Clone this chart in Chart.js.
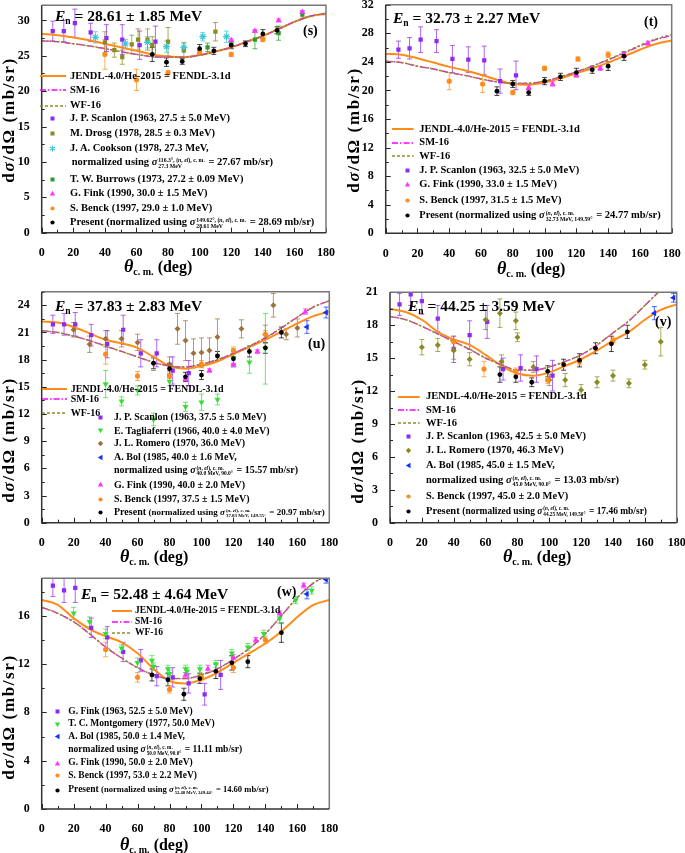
<!DOCTYPE html>
<html>
<head>
<meta charset="utf-8">
<script src="https://cdn.jsdelivr.net/npm/chart.js@4.4.1/dist/chart.umd.min.js"></script>
<style>
  body { margin: 0; width: 685px; height: 853px; position: relative; overflow: hidden; background: #fff;
         font-family: "Liberation Serif", "Times New Roman", serif; font-weight: bold; color: #000; }
  canvas { position: absolute; }
  .tx { position: absolute; white-space: nowrap; line-height: 1; }
  .ss { display: inline-flex; flex-direction: column; vertical-align: 0.6em; font-size: 0.55em; line-height: 1.05; margin: 0 1px; }
  .sm { font-size: 0.9em; }
  .sym { position: absolute; overflow: visible; }
  .ytl { position: absolute; white-space: nowrap; line-height: 1; font-size: 17px; letter-spacing: 1.6px;
         transform: translate(-50%, -50%) rotate(-90deg); }
  sub { font-size: 0.62em; vertical-align: -0.3em; line-height: 0; }
</style>
</head>
<body>
<canvas id="cs"></canvas>
<canvas id="ct"></canvas>
<canvas id="cu"></canvas>
<canvas id="cv"></canvas>
<canvas id="cw"></canvas>
<script>
// theory curves, every 10 deg
const angles = [0, 10, 20, 30, 40, 50, 60, 70, 80, 90, 100, 110, 120, 130, 140, 150, 160, 170, 180];

const sJendl = [28.1, 27.9, 27.6, 27.2, 26.7, 26.2, 25.7, 25.2, 24.9, 24.8, 25.1, 25.6, 26.2, 27.0, 27.8, 28.8, 29.8, 30.6, 30.9];
const sSm    = [27.1, 27.0, 26.7, 26.4, 26.0, 25.6, 25.2, 24.9, 24.8, 24.8, 25.1, 25.6, 26.2, 27.0, 27.8, 28.8, 29.8, 30.6, 31.0];
const sWf    = [27.1, 27.0, 26.7, 26.4, 26.0, 25.6, 25.2, 24.9, 24.8, 24.8, 25.1, 25.6, 26.2, 27.0, 27.8, 28.8, 29.8, 30.6, 31.0];

const tJendl = [25.1, 25.0, 24.5, 23.9, 23.3, 22.8, 22.2, 21.5, 20.9, 20.8, 21.1, 21.7, 22.4, 23.1, 23.9, 24.8, 25.7, 26.5, 27.0];
const tSm    = [24.1, 23.9, 23.4, 23.0, 22.5, 22.1, 21.6, 21.2, 21.0, 21.0, 21.3, 21.9, 22.6, 23.4, 24.3, 25.2, 26.2, 27.1, 27.7];
const tWf    = [24.1, 23.9, 23.4, 23.0, 22.5, 22.1, 21.6, 21.2, 21.0, 21.0, 21.3, 21.9, 22.6, 23.4, 24.3, 25.3, 26.3, 27.2, 27.8];

const uJendl = [22.2, 22.1, 21.6, 20.9, 20.2, 19.8, 19.3, 18.3, 17.3, 17.0, 17.3, 17.8, 18.6, 19.4, 20.2, 21.1, 22.0, 22.8, 23.3];
const uSm    = [21.2, 21.0, 20.6, 20.1, 19.5, 18.9, 18.3, 17.7, 17.3, 17.2, 17.5, 18.0, 18.7, 19.5, 20.4, 21.5, 22.7, 23.8, 24.5];
const uWf    = [21.2, 21.0, 20.6, 20.1, 19.5, 18.9, 18.3, 17.7, 17.3, 17.2, 17.5, 18.0, 18.7, 19.5, 20.4, 21.5, 22.7, 23.8, 24.5];

const vJendl = [19.5, 19.2, 18.5, 17.4, 16.7, 16.2, 15.3, 14.3, 13.6, 13.4, 13.7, 14.3, 14.9, 15.7, 16.6, 17.4, 18.5, 19.4, 19.9];
const vSm    = [18.8, 18.5, 17.9, 17.2, 16.5, 15.8, 15.0, 14.4, 13.9, 13.9, 14.2, 14.7, 15.3, 16.2, 17.3, 18.4, 19.8, 21.2, 22.4];
const vWf    = [18.8, 18.5, 17.9, 17.2, 16.5, 15.8, 15.0, 14.4, 13.9, 13.9, 14.2, 14.7, 15.3, 16.2, 17.3, 18.4, 19.8, 21.2, 22.4];

const wJendl = [17.3, 16.9, 15.8, 14.9, 14.3, 13.8, 12.9, 11.6, 10.6, 10.4, 10.7, 11.3, 12.1, 12.9, 13.7, 14.7, 15.9, 16.9, 17.3];
const wSm    = [16.7, 16.2, 15.5, 14.5, 13.4, 12.5, 11.7, 11.1, 10.8, 10.8, 11.1, 11.6, 12.4, 13.3, 14.5, 16.0, 17.5, 18.7, 19.4];
const wWf    = [16.7, 16.2, 15.5, 14.5, 13.4, 12.5, 11.7, 11.1, 10.8, 10.8, 11.1, 11.6, 12.4, 13.3, 14.5, 16.0, 17.5, 18.7, 19.4];

// measurements: [angle, dsigma/dOmega, error]
const sScanlon = [[7, 28.5, 1.4], [14, 28.5, 1.5], [21, 29.6, 2.0], [31, 28.3, 1.3], [41, 27.5, 1.9], [51, 27.3, 2.1], [62, 26.5, 2.0], [72, 27.0, 2.2]];
const sDrosg = [[40, 26.9, 1.5], [46, 25.8, 1.0], [51, 24.8, 1.0], [57, 26.6, 1.3], [61, 27.3, 1.5], [67, 27.3, 1.5], [70, 26.5, 1.2], [80, 27.0, 2.0], [90, 25.8, 1.0], [110, 28.4, 1.3]];
const sCookson = [[34, 27.6, 0.8], [53, 26.7, 0.6], [67, 26.9, 0.8], [79, 26.3, 0.8], [90, 26.2, 0.7], [102, 27.7, 0.6], [117, 27.7, 0.8]];
const sBurrows = [[105, 26.2, 0.6], [120, 26.6, 0.5], [135, 27.3, 1.3], [150, 28.2, 1.0], [165, 30.8, 0.5]];
const sFink = [[120, 27.2, 0.2], [135, 28.5, 0.2], [150, 30.0, 0.2], [165, 31.2, 0.2]];
const sBenck = [[40, 25.2, 2.1], [60, 21.6, 1.5], [80, 22.6, 0.3], [100, 25.6, 0.3], [120, 25.2, 0.3], [140, 27.3, 0.3]];
const sPresent = [[70, 25.2, 1.0], [79, 24.1, 0.6], [89, 24.2, 0.4], [100, 26.0, 0.6], [109, 25.7, 0.5], [120, 26.5, 0.5], [129, 26.7, 0.4], [140, 28.1, 0.6], [149, 28.6, 0.5]];

const tScanlon = [[8, 25.7, 1.2], [15, 25.9, 1.5], [22, 27.1, 1.8], [32, 26.9, 1.6], [42, 24.4, 1.9], [52, 24.3, 1.8], [62, 24.2, 2.0], [72, 21.3, 1.7], [82, 22.1, 2.0]];
const tFink = [[90, 20.4, 0.3], [105, 20.9, 0.3], [120, 22.2, 0.3], [135, 23.1, 0.3], [150, 25.0, 0.3], [165, 26.6, 0.3]];
const tBenck = [[40, 21.3, 1.2], [61, 20.9, 1.2], [80, 19.7, 0.3], [100, 23.1, 0.3], [121, 24.4, 0.3], [140, 25.0, 0.4]];
const tPresent = [[70, 19.9, 0.6], [80, 20.9, 0.5], [90, 19.7, 0.4], [100, 21.3, 0.5], [110, 21.9, 0.5], [120, 22.5, 0.6], [130, 22.9, 0.5], [140, 23.4, 0.6], [150, 24.8, 0.6]];

const uScanlon = [[7, 21.9, 1.0], [14, 21.9, 1.2], [21, 21.9, 1.3], [31, 20.7, 1.2], [41, 19.7, 1.5], [51, 21.3, 1.6], [62, 18.7, 1.5], [72, 18.7, 1.5], [82, 16.8, 1.5], [92, 16.5, 1.4]];
const uTagliaferri = [[40, 15.3, 1.5], [50, 13.4, 0.5], [60, 14.6, 0.5], [70, 11.4, 0.7], [80, 15.6, 0.5], [90, 12.8, 0.5], [100, 13.3, 0.9], [110, 13.6, 0.6], [120, 18.2, 1.0], [130, 17.7, 1.2], [140, 19.2, 3.9]];
const uRomero = [[20, 21.3, 0.8], [30, 19.7, 0.9], [40, 20.3, 0.9], [50, 20.3, 0.9], [60, 19.9, 0.9], [70, 17.6, 0.8], [80, 17.5, 0.8], [85, 21.4, 1.7], [90, 20.1, 2.2], [95, 18.7, 1.6], [100, 18.8, 1.6], [105, 19.0, 1.4], [110, 20.5, 2.0], [125, 21.4, 1.0], [140, 20.8, 1.0], [145, 24.0, 1.3], [153, 20.8, 0.6], [160, 21.5, 1.0]];
const uBol = [[166, 21.6, 0.7], [178, 23.2, 0.6]];
const uFink = [[90, 15.9, 0.2], [105, 16.8, 0.2], [120, 17.4, 0.2], [135, 18.9, 0.2], [165, 23.3, 0.3]];
const uBenck = [[40, 18.6, 1.1], [60, 16.2, 0.5], [80, 16.2, 0.3], [100, 17.5, 0.4], [120, 19.0, 0.4], [140, 20.8, 0.4]];
const uPresent = [[70, 17.6, 0.6], [80, 17.0, 0.6], [90, 16.1, 0.5], [100, 16.3, 0.5], [110, 18.4, 0.5], [120, 18.1, 0.6], [130, 18.9, 0.6], [140, 19.3, 0.6], [150, 21.0, 0.6]];

const vScanlon = [[6, 19.9, 1.0], [13, 20.8, 1.0], [20, 20.2, 1.2], [30, 18.6, 1.2], [40, 15.8, 1.2], [50, 17.1, 1.3], [61, 18.3, 1.5], [71, 14.0, 1.0], [82, 14.1, 1.2], [92, 14.0, 1.2], [102, 13.4, 1.4]];
const vRomero = [[20, 16.0, 0.7], [30, 16.2, 0.6], [40, 15.7, 0.8], [50, 14.9, 0.6], [60, 18.5, 0.9], [69, 19.1, 1.3], [70, 14.7, 0.6], [79, 18.4, 0.8], [80, 16.9, 0.4], [90, 14.2, 0.5], [100, 13.0, 0.5], [110, 13.0, 0.6], [120, 12.1, 0.5], [130, 12.8, 0.5], [140, 13.4, 0.5], [150, 12.7, 0.4], [160, 14.4, 0.4], [170, 16.5, 1.3]];
const vBol = [[166, 19.1, 0.6], [178, 20.5, 0.4]];
const vBenck = [[40, 16.5, 0.5], [59, 14.0, 0.7], [79, 13.8, 0.3], [99, 13.0, 0.3], [119, 14.7, 0.3], [140, 16.6, 0.3]];
const vPresent = [[69, 13.5, 0.7], [79, 13.3, 0.5], [89, 12.8, 0.4], [99, 13.8, 0.5], [109, 14.4, 0.5], [119, 14.8, 0.6], [129, 15.9, 0.5], [139, 16.3, 0.7], [149, 17.4, 0.6]];

const wFink63 = [[7, 18.5, 0.9], [14, 18.1, 1.0], [21, 18.3, 1.2], [31, 15.0, 0.8], [41, 14.2, 0.9], [51, 13.0, 0.8], [62, 12.3, 0.9], [72, 11.0, 0.8], [82, 10.9, 0.8], [92, 10.4, 0.8], [102, 9.5, 0.9], [112, 11.1, 1.2]];
const wMontgomery = [[20, 16.2, 0.5], [30, 15.5, 0.4], [40, 14.5, 0.4], [50, 13.3, 0.3], [60, 12.1, 0.4], [69, 12.3, 0.4], [70, 11.8, 0.3], [79, 11.6, 0.3], [80, 11.2, 0.3], [90, 11.6, 0.3], [91, 11.4, 0.3], [99, 11.6, 0.3], [109, 12.0, 0.3], [119, 12.9, 0.3], [129, 13.4, 0.3], [139, 14.5, 0.3], [149, 15.8, 0.4], [159, 17.3, 0.3], [169, 18.1, 0.3]];
const wBol = [[166, 17.8, 0.4], [178, 19.0, 0.3]];
const wFink90 = [[90, 11.1, 0.2], [104, 11.6, 0.3], [120, 12.5, 0.3], [134, 14.0, 0.2], [149, 16.2, 0.2], [164, 18.5, 0.2]];
const wBenck = [[40, 13.2, 0.6], [60, 10.9, 0.4], [80, 9.9, 0.3], [100, 10.9, 0.3], [120, 11.7, 0.4], [140, 14.0, 0.3]];
const wPresent = [[69, 11.1, 0.5], [79, 10.7, 0.5], [89, 9.5, 0.5], [99, 10.8, 0.4], [109, 11.4, 0.6], [119, 12.1, 0.6], [129, 12.2, 0.5], [150, 14.6, 0.8]];

// styles
const lineSty = [
  { color: '#ff8c1a', width: 2, dash: [] },           // JENDL
  { color: '#ff00ff', width: 1.3, dash: [6, 2, 1.5, 2] }, // SM-16
  { color: '#8f8f2a', width: 1.5, dash: [3, 2] },      // WF-16
];
const sty = {
  scanlon: { shape: 'rect', color: '#8b2cf0', r: 3 },
  drosg: { shape: 'rect', color: '#8a8a1e', r: 3 },
  cookson: { shape: 'star', color: '#3cc8d2', r: 3.5 },
  burrows: { shape: 'rect', color: '#2e9a2e', r: 3 },
  fink: { shape: 'triangle', color: '#ff33ff', r: 3.5 },
  benck: { shape: 'circle', color: '#ff8c1a', r: 2.6 },
  present: { shape: 'circle', color: '#000000', r: 2.4 },
  tagl: { shape: 'triangle', rot: 180, color: '#33e033', r: 3.5 },
  romeroU: { shape: 'rectRot', color: '#a0703a', r: 3 },
  romeroV: { shape: 'rectRot', color: '#8a8a1e', r: 3 },
  bol: { shape: 'triangle', rot: 270, color: '#1030ff', r: 3.5 },
};

function rgba(hex, a) {
  const n = parseInt(hex.slice(1), 16);
  return `rgba(${n >> 16},${(n >> 8) & 255},${n & 255},${a})`;
}

const decor = {
  id: 'decor',
  beforeDatasetsDraw(chart) {
    const { ctx, chartArea: a, scales: { x, y } } = chart;
    ctx.save();
    ctx.beginPath();
    ctx.rect(a.left, a.top, a.right - a.left, a.bottom - a.top);
    ctx.clip();
    chart.data.datasets.forEach(ds => {
      if (!ds.errs) return;
      ctx.strokeStyle = ds.barColor;
      ctx.lineWidth = 1;
      ds.data.forEach((p, i) => {
        const px = x.getPixelForValue(p.x);
        const lo = y.getPixelForValue(p.y - ds.errs[i]);
        const hi = y.getPixelForValue(p.y + ds.errs[i]);
        ctx.beginPath();
        ctx.moveTo(px, lo); ctx.lineTo(px, hi);
        ctx.moveTo(px - 2.5, lo); ctx.lineTo(px + 2.5, lo);
        ctx.moveTo(px - 2.5, hi); ctx.lineTo(px + 2.5, hi);
        ctx.stroke();
      });
    });
    ctx.restore();
  },
  afterDraw(chart) {
    const { ctx, chartArea: a, scales: { x, y } } = chart;
    ctx.save();
    ctx.strokeStyle = '#222';
    ctx.lineWidth = 1;
    ctx.beginPath();
    for (let v = 0; v <= 180; v += 10) {
      const px = Math.round(x.getPixelForValue(v)) + 0.5;
      ctx.moveTo(px, a.bottom); ctx.lineTo(px, a.bottom - (v % 20 ? 3 : 5));
    }
    const st = y.options.ticks.stepSize;
    for (let v = 0; v <= y.max; v += st / 2) {
      const py = Math.round(y.getPixelForValue(v)) + 0.5;
      ctx.moveTo(a.left, py); ctx.lineTo(a.left + ((v / st) % 1 ? 3 : 5), py);
    }
    ctx.stroke();
    ctx.lineWidth = 1.5;
    ctx.strokeStyle = '#777';
    ctx.beginPath();
    ctx.moveTo(a.left, a.top); ctx.lineTo(a.right, a.top); ctx.lineTo(a.right, a.bottom);
    ctx.stroke();
    ctx.strokeStyle = '#333';
    ctx.beginPath();
    ctx.moveTo(a.left, a.top); ctx.lineTo(a.left, a.bottom); ctx.lineTo(a.right, a.bottom);
    ctx.stroke();
    ctx.restore();
  }
};

function panel(id, geo, yMax, yStep, curves, sets) {
  const cv = document.getElementById(id);
  const [cx, cy, cw, ch] = geo.canvas;
  const [l, t, r, b] = geo.area;
  cv.width = cw; cv.height = ch;
  Object.assign(cv.style, { left: cx + 'px', top: cy + 'px', width: cw + 'px', height: ch + 'px' });
  const tickFont = { family: '"Liberation Serif", serif', size: 12, weight: 'bold' };

  const points = sets.map(([pts, s]) => ({
    type: 'scatter',
    data: pts.map(p => ({ x: p[0], y: p[1] })),
    errs: pts.map(p => p[2]),
    barColor: rgba(s.color, 0.72),
    pointStyle: s.shape,
    pointRotation: s.rot || 0,
    pointRadius: s.r,
    backgroundColor: s.color,
    borderColor: s.color,
    borderWidth: s.shape === 'star' ? 1.2 : 0,
    clip: 0,
  }));
  const lines = curves.map((vals, k) => ({
    type: 'line',
    data: angles.map((a, i) => ({ x: a, y: vals[i] })),
    borderColor: lineSty[k].color,
    borderWidth: lineSty[k].width,
    borderDash: lineSty[k].dash,
    pointRadius: 0,
    fill: false,
    cubicInterpolationMode: 'monotone',
    clip: 0,
  })).reverse();

  new Chart(cv, {
    type: 'scatter',
    data: { datasets: [...points, ...lines] },
    options: {
      responsive: false,
      animation: false,
      devicePixelRatio: 1,
      layout: { padding: { left: 0, top: t - cy, right: cx + cw - r, bottom: 0 } },
      plugins: { legend: { display: false }, tooltip: { enabled: false } },
      scales: {
        x: {
          type: 'linear', min: 0, max: 180,
          grid: { display: false }, border: { display: false },
          ticks: { stepSize: 20, font: tickFont, color: '#000', padding: 5, maxRotation: 0, includeBounds: false },
          afterFit: s => { s.height = cy + ch - b; s.paddingLeft = 0; s.paddingRight = 0; },
        },
        y: {
          type: 'linear', min: 0, max: yMax,
          grid: { display: false }, border: { display: false },
          ticks: { stepSize: yStep, font: tickFont, color: '#000', padding: 4, includeBounds: false },
          afterFit: s => { s.width = l - cx; s.paddingTop = 0; s.paddingBottom = 0; },
        },
      },
    },
    plugins: [decor],
  });
}

panel('cs', { canvas: [0, 0, 340, 280], area: [41.7, 4, 326, 232.7] }, 32.15, 5,
  [sJendl, sSm, sWf],
  [[sPresent, sty.present], [sBenck, sty.benck], [sFink, sty.fink], [sBurrows, sty.burrows],
   [sCookson, sty.cookson], [sDrosg, sty.drosg], [sScanlon, sty.scanlon]]);
panel('ct', { canvas: [340, 0, 345, 280], area: [385.7, 4.7, 671.7, 233.3] }, 32, 4,
  [tJendl, tSm, tWf],
  [[tPresent, sty.present], [tBenck, sty.benck], [tFink, sty.fink], [tScanlon, sty.scanlon]]);
panel('cu', { canvas: [0, 280, 340, 290], area: [41.7, 291.7, 329.3, 522.7] }, 25.5, 3,
  [uJendl, uSm, uWf],
  [[uPresent, sty.present], [uBenck, sty.benck], [uFink, sty.fink], [uBol, sty.bol],
   [uRomero, sty.romeroU], [uTagliaferri, sty.tagl], [uScanlon, sty.scanlon]]);
panel('cv', { canvas: [340, 280, 345, 290], area: [390, 292.3, 676.7, 522.7] }, 21, 3,
  [vJendl, vSm, vWf],
  [[vPresent, sty.present], [vBenck, sty.benck], [vBol, sty.bol], [vRomero, sty.romeroV], [vScanlon, sty.scanlon]]);
panel('cw', { canvas: [0, 570, 340, 283], area: [41.7, 578.3, 329.3, 809] }, 19.1, 4,
  [wJendl, wSm, wWf],
  [[wPresent, sty.present], [wBenck, sty.benck], [wFink90, sty.fink], [wBol, sty.bol],
   [wMontgomery, sty.tagl], [wFink63, sty.scanlon]]);

// ---------- text and legends (HTML) ----------
function put(html, x, base, size, cls) {
  const d = document.createElement('div');
  d.className = 'tx' + (cls ? ' ' + cls : '');
  d.style.left = x + 'px';
  d.style.top = (base - 0.8375 * size) + 'px';
  d.style.fontSize = size + 'px';
  d.innerHTML = html;
  document.body.appendChild(d);
}
function row(html, x, yc, size) { put(html, x, yc + 0.32 * size, size); }

function ytitle(cx, cy) {
  const d = document.createElement('div');
  d.className = 'ytl';
  d.style.left = cx + 'px';
  d.style.top = cy + 'px';
  d.innerHTML = 'd<i>σ</i>/dΩ (mb/sr)';
  document.body.appendChild(d);
}
function xtitle(x, base) {
  put('<i style="font-size:18px">θ</i><sub style="font-size:10px">c. m.</sub> (deg)', x, base, 16);
}
function en(x, base, txt) {
  put('<i>E</i><sub>n</sub> = ' + txt, x, base, 15.5);
}

function svgEl(x, y, w, h, inner) {
  const ns = 'http://www.w3.org/2000/svg';
  const s = document.createElementNS(ns, 'svg');
  s.setAttribute('class', 'sym');
  s.setAttribute('width', w); s.setAttribute('height', h);
  s.style.left = x + 'px'; s.style.top = y + 'px';
  s.innerHTML = inner;
  document.body.appendChild(s);
}
function lineKey(x1, x2, y, k) {
  const ls = lineSty[k];
  svgEl(x1, y - 3, x2 - x1, 6,
    `<line x1="0" y1="3" x2="${x2 - x1}" y2="3" stroke="${ls.color}" stroke-width="${ls.width}" stroke-dasharray="${ls.dash.join(' ')}"/>`);
}
function markKey(x, y, s) {
  const c = s.color;
  let inner;
  if (s.shape === 'rect') inner = `<rect x="2.5" y="2.5" width="4" height="4" fill="${c}"/>`;
  else if (s.shape === 'circle') inner = `<circle cx="4.5" cy="4.5" r="2.1" fill="${c}"/>`;
  else if (s.shape === 'rectRot') inner = `<polygon points="4.5,1.8 7.2,4.5 4.5,7.2 1.8,4.5" fill="${c}"/>`;
  else if (s.shape === 'star') inner = `<path d="M4.5 1.5V7.5M1.9 3L7.1 6M1.9 6L7.1 3" stroke="${c}" stroke-width="1.1"/>`;
  else inner = `<polygon points="4.5,1.8 7.2,6.5 1.8,6.5" fill="${c}" transform="rotate(${s.rot || 0} 4.5 4.5)"/>`;
  svgEl(x - 4.5, y - 4.5, 9, 9, inner);
}
function sig(sup, sub) {
  return `<i>σ</i><span class="ss"><span>${sup}</span><span>${sub}</span></span>`;
}
const NEL = '(<i>n</i>, <i>el</i>), c. m.';

function legend(cfg) {
  const { lx1, lx2, ltx, lys, mx, tx, size, rows } = cfg;
  const names = ['JENDL-4.0/He-2015 = FENDL-3.1d', 'SM-16', 'WF-16'];
  lys.forEach((y, k) => { lineKey(lx1, lx2, y, k); row(names[k], ltx, y, size); });
  rows.forEach(([s, y, html, x]) => {
    if (s) markKey(mx, y, s);
    row(html, x !== undefined ? x : tx, y, size);
  });
}

// panel (s)
ytitle(8, 120); xtitle(124, 270); en(55, 20.7, '28.61 ± 1.85 MeV'); put('(s)', 303, 36, 14);
legend({ lx1: 40, lx2: 66, ltx: 70, lys: [76, 90, 105.5], mx: 52.5, tx: 70, size: 10.5, rows: [
  [sty.scanlon, 118.5, 'J. P. Scanlon (1963, 27.5 ± 5.0 MeV)'],
  [sty.drosg, 133, 'M. Drosg (1978, 28.5 ± 0.3 MeV)'],
  [sty.cookson, 148, 'J. A. Cookson (1978, 27.3 MeV,'],
  [null, 162.5, 'normalized using ' + sig('116.3°, ' + NEL, '27.3 MeV') + ' = 27.67 mb/sr)', 71.7],
  [sty.burrows, 179.5, 'T. W. Burrows (1973, 27.2 ± 0.09 MeV)'],
  [sty.fink, 193.5, 'G. Fink (1990, 30.0 ± 1.5 MeV)'],
  [sty.benck, 208, 'S. Benck (1997, 29.0 ± 1.0 MeV)'],
  [sty.present, 222.5, 'Present (normalized using ' + sig('149.62°, ' + NEL, '28.61 MeV') + ' = 28.69 mb/sr)'],
] });

// panel (t)
ytitle(353, 130); xtitle(497, 272); en(393, 23.3, '32.73 ± 2.27 MeV'); put('(t)', 644, 26.7, 14);
legend({ lx1: 391.7, lx2: 413.3, ltx: 419.3, lys: [129, 142.7, 156], mx: 407.7, tx: 419.3, size: 10.5, rows: [
  [sty.scanlon, 170.7, 'J. P. Scanlon (1963, 32.5 ± 5.0 MeV)'],
  [sty.fink, 184.7, 'G. Fink (1990, 33.0 ± 1.5 MeV)'],
  [sty.benck, 200, 'S. Benck (1997, 31.5 ± 1.5 MeV)'],
  [sty.present, 215, 'Present (normalized using ' + sig(NEL, '32.73 MeV, 149.59°') + ' = 24.77 mb/sr)'],
] });

// panel (u)
ytitle(8, 440); xtitle(120, 560); en(55, 310.7, '37.83 ± 2.83 MeV'); put('(u)', 308, 348.3, 14);
legend({ lx1: 41.7, lx2: 66.7, ltx: 70.7, lys: [388.7, 399.3, 413.3], mx: 100, tx: 114, size: 10, rows: [
  [sty.scanlon, 417.3, 'J. P. Scanlon (1963, 37.5 ± 5.0 MeV)'],
  [sty.tagl, 430.7, 'E. Tagliaferri (1966, 40.0 ± 4.0 MeV)'],
  [sty.romeroU, 443.3, 'J. L. Romero (1970, 36.0 MeV)'],
  [sty.bol, 457.3, 'A. Bol (1985, 40.0 ± 1.6 MeV,'],
  [null, 470, 'normalized using ' + sig(NEL, '40.0 MeV, 90.0°') + ' = 15.57 mb/sr)'],
  [sty.fink, 484.7, 'G. Fink (1990, 40.0 ± 2.0 MeV)'],
  [sty.benck, 499, 'S. Benck (1997, 37.5 ± 1.5 MeV)'],
  [sty.present, 512.3, 'Present <span class="sm">(normalized using ' + sig(NEL, '37.83 MeV, 149.55°') + ' = 20.97 mb/sr)</span>'],
] });

// panel (v)
ytitle(357, 441); xtitle(503, 560); en(408, 310.7, '44.25 ± 3.59 MeV'); put('(v)', 655, 326.7, 14);
legend({ lx1: 398.3, lx2: 420, ltx: 426, lys: [396.7, 410, 423.3], mx: 408.3, tx: 426, size: 10.5, rows: [
  [sty.scanlon, 436.7, 'J. P. Scanlon (1963, 42.5 ± 5.0 MeV)'],
  [sty.romeroV, 450.7, 'J. L. Romero (1970, 46.3 MeV)'],
  [sty.bol, 465, 'A. Bol (1985, 45.0 ± 1.5 MeV,'],
  [null, 480, 'normalized using ' + sig(NEL, '45.0 MeV, 90.0°') + ' = 13.03 mb/sr)'],
  [sty.benck, 496.7, 'S. Benck (1997, 45.0 ± 2.0 MeV)'],
  [sty.present, 511, 'Present <span class="sm">(normalized using ' + sig(NEL, '44.25 MeV, 149.50°') + ' = 17.46 mb/sr)</span>'],
] });

// panel (w)
ytitle(8, 717); xtitle(120, 848); en(81, 599.3, '52.48 ± 4.64 MeV'); put('(w)', 277, 596.7, 14);
legend({ lx1: 111.7, lx2: 131.7, ltx: 135, lys: [610.7, 621.7, 633.3], mx: 57.3, tx: 68.3, size: 9.5, rows: [
  [sty.scanlon, 711.7, 'G. Fink (1963, 52.5 ± 5.0 MeV)'],
  [sty.tagl, 724, 'T. C. Montgomery (1977, 50.0 MeV)'],
  [sty.bol, 736.7, 'A. Bol (1985, 50.0 ± 1.4 MeV,'],
  [null, 750, 'normalized using ' + sig(NEL, '50.0 MeV, 90.0°') + ' = 11.11 mb/sr)'],
  [sty.fink, 763.3, 'G. Fink (1990, 50.0 ± 2.0 MeV)'],
  [sty.benck, 775.7, 'S. Benck (1997, 53.0 ± 2.2 MeV)'],
  [sty.present, 790, 'Present <span class="sm">(normalized using ' + sig(NEL, '52.48 MeV, 149.44°') + ' = 14.60 mb/sr)</span>'],
] });
</script>
</body>
</html>
